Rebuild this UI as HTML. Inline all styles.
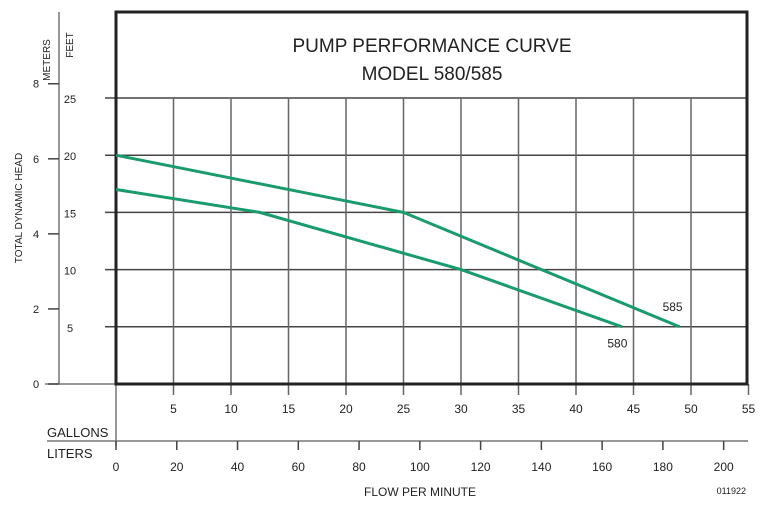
<!DOCTYPE html>
<html><head><meta charset="utf-8"><style>
body{margin:0;background:#fff;}
svg{display:block;font-family:"Liberation Sans",sans-serif;}
</style></head><body>
<svg id="c" width="768" height="510" viewBox="0 0 768 510">
<text x="432" y="52" font-size="19" text-anchor="middle" fill="#222">PUMP PERFORMANCE CURVE</text>
<text x="432" y="80" font-size="19" text-anchor="middle" fill="#222">MODEL 580/585</text>
<text transform="translate(50,60) rotate(-90)" font-size="10" text-anchor="middle" fill="#222">METERS</text>
<text transform="translate(73,45) rotate(-90)" font-size="10" text-anchor="middle" fill="#222">FEET</text>
<text transform="translate(22,208) rotate(-90)" font-size="10" text-anchor="middle" fill="#222">TOTAL DYNAMIC HEAD</text>
<text x="47" y="437" font-size="13" fill="#222">GALLONS</text>
<text x="47" y="458" font-size="13" fill="#222">LITERS</text>
<text x="420" y="496" font-size="12" text-anchor="middle" fill="#222">FLOW PER MINUTE</text>
<text x="746" y="494" font-size="9" text-anchor="end" fill="#222">011922</text>
<g id="g"></g>
</svg>
<script>
const galTicks=[5,10,15,20,25,30,35,40,45,50,55];
const literTicks=[0,20,40,60,80,100,120,140,160,180,200];
const feetTicks=[5,10,15,20,25];
const meterTicks=[0,2,4,6,8];
const pump585Gal=[0,25,49];
const pump585Ft=[20,15,5];
const pump580Gal=[0,12.5,30,44];
const pump580Ft=[17,15,10,5];
const X=g=>116+g*11.5;
const Y=f=>384-f*11.44;
const XL=l=>X(l/3.785);
const YM=m=>Y(m*3.2808);
const NS='http://www.w3.org/2000/svg';
const G=document.getElementById('g');
function mk(t,a,name){const e=document.createElementNS(NS,t);for(const k in a)e.setAttribute(k,a[k]);


G.appendChild(e);return e;}
function tx(x,y,s,sz,anc,name){const e=mk('text',{x:x,y:y,'font-size':sz,'text-anchor':anc,fill:'#222'},name);e.textContent=s;return e;}
feetTicks.forEach(f=>{mk('line',{x1:105,x2:747,y1:Y(f),y2:Y(f),stroke:'#444','stroke-width':1.5},'gridline-h');
tx(70,Y(f)+5,String(f),11,'middle','feet-tick-label');});
galTicks.forEach(g=>{if(g<55)mk('line',{x1:X(g),x2:X(g),y1:Y(25),y2:395,stroke:'#666','stroke-width':1.5},'gridline-v');
else mk('line',{x1:X(g),x2:X(g),y1:384,y2:395,stroke:'#666','stroke-width':1.5},'gallon-tick');
tx(X(g),413,String(g),12,'middle','gallon-tick-label');});
mk('line',{x1:59,x2:59,y1:12,y2:384,stroke:'#777','stroke-width':1.5},'meters-axis-line');
mk('line',{x1:45,x2:116,y1:384,y2:384,stroke:'#777','stroke-width':1.5},'zero-baseline');
meterTicks.forEach(m=>{mk('line',{x1:48,x2:59,y1:YM(m),y2:YM(m),stroke:'#444','stroke-width':1.5},'meter-tick');
tx(36,YM(m)+4,String(m),11,'middle','meter-tick-label');});
mk('line',{x1:47,x2:748,y1:441,y2:441,stroke:'#777','stroke-width':1.5},'liters-axis-line');
mk('line',{x1:116,x2:116,y1:384,y2:446,stroke:'#777','stroke-width':1.5},'x-zero-line');
literTicks.forEach(l=>{mk('line',{x1:XL(l),x2:XL(l),y1:441,y2:450,stroke:'#444','stroke-width':1.5},'liter-tick');
tx(XL(l),471,String(l),12,'middle','liter-tick-label');});
mk('rect',{x:116,y:12,width:631,height:372,fill:'none',stroke:'#222','stroke-width':3},'plot-frame');
function pts(a,b){return a.map((g,i)=>X(g)+','+Y(b[i])).join(' ');}
mk('polyline',{points:pts(pump585Gal,pump585Ft),fill:'none',stroke:'#1a9b6c','stroke-width':3},'curve-585');
mk('polyline',{points:pts(pump580Gal,pump580Ft),fill:'none',stroke:'#1a9b6c','stroke-width':3},'curve-580');
tx(X(48.4),Y(6.4),'585',12,'middle','label-585');
tx(X(43.6),Y(3.2),'580',12,'middle','label-580');
</script>
</body></html>
